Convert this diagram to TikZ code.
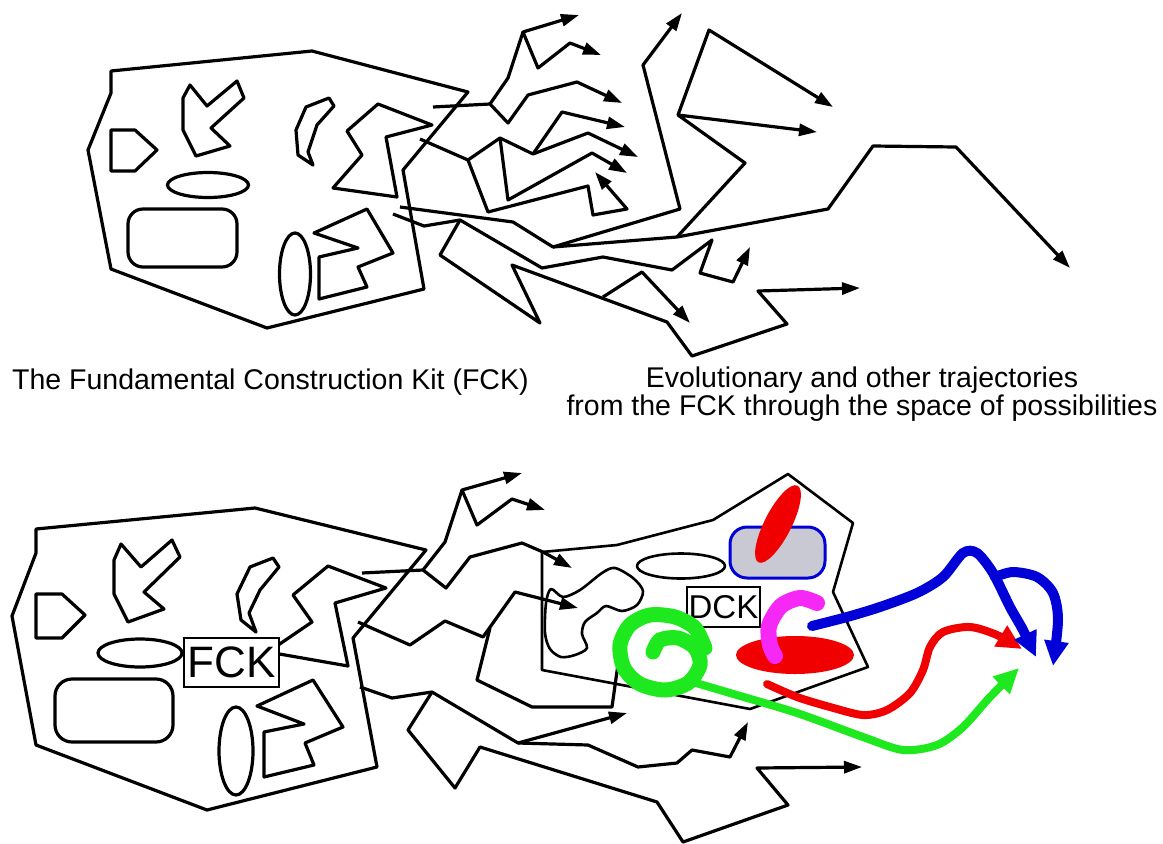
\documentclass[tikz,border=0pt]{standalone}
\usepackage{fontspec}
\setmainfont{Liberation Sans}
\usetikzlibrary{arrows.meta,shapes.geometric}
\definecolor{mygreen}{RGB}{30,232,30}
\definecolor{myred}{RGB}{240,0,0}
\definecolor{myblue}{RGB}{0,0,215}
\definecolor{mymag}{RGB}{245,40,245}
\definecolor{dotfill}{RGB}{200,201,210}
\begin{document}
\begin{tikzpicture}[x=1pt,y=-1pt,
  ln/.style={line width=3.2pt,line join=round,black},
  arr/.style={ln,-{Triangle[length=18pt,width=12pt]}},
  dckln/.style={line width=2.6pt,line join=round,black},
  captxt/.style={font=\fontsize{28.5}{25.5}\selectfont,inner sep=0pt},
  garr/.style={line width=8pt,line cap=round,mygreen,-{Triangle[length=25pt,width=23pt]}},
  rarr/.style={line width=8pt,line cap=round,myred,-{Triangle[length=25pt,width=23pt]}},
  barr/.style={line width=10pt,line cap=round,myblue,-{Triangle[length=25pt,width=23pt]}}]
\useasboundingbox (0,0) rectangle (1163,844);
\fill[white] (0,0) rectangle (1163,844);

% ================= TOP: FCK =================
\draw[ln] (111,71) -- (312,51) -- (468,92) -- (403,170) -- (424,289) -- (267,328) -- (111,269) -- (88,150) -- (111,93) -- cycle;
\draw[ln] (111,130) -- (135,130) -- (157,150) -- (135,171) -- (111,171) -- cycle;
\draw[ln] (190,85) -- (207,106) -- (237,81) -- (244,98) -- (211,128) -- (230,146) -- (196,156) -- (183,130) -- (183,98) -- cycle;
\draw[ln] (208,185) ellipse [x radius=40.5pt,y radius=12.5pt];
\draw[ln,rounded corners=15pt] (128,209) rectangle (237,267);
\draw[ln] (329,98) -- (334,106) -- (317,125) -- (308,152) -- (313,165) -- (298,155) -- (296,130) -- (306,107) -- cycle;
\draw[ln] (295,274) ellipse [x radius=15.5pt,y radius=41pt];
\draw[ln] (314,233) -- (367,209) -- (393,253) -- (358,267) -- (367,287) -- (319,299) -- (319,257) -- (358,248) -- cycle;
\draw[ln] (378,104) -- (432,125) -- (386,137) -- (397,197) -- (333,188) -- (362,155) -- (347,131) -- cycle;

% top trajectories
\draw[arr] (433,107) -- (490,104) -- (508,123) -- (528,95) -- (577,82) -- (622,103);
\draw[arr] (490,104) -- (508,78) -- (523,32) -- (579,15);
\draw[arr] (523,32) -- (538,68) -- (570,43) -- (601,55);
\draw[arr] (420,139) -- (468,160) -- (500,138) -- (533,154) -- (588,133) -- (638,157);
\draw[arr] (533,154) -- (562,112) -- (625,127);
\draw[arr] (500,138) -- (508,200) -- (592,153) -- (627,173);
\draw[arr] (468,160) -- (488,212) -- (588,186) -- (593,215) -- (627,209) -- (595,172);
\draw[arr] (400,207) -- (513,222) -- (553,247) -- (680,209) -- (643,65) -- (682,13);
\draw[arr] (553,247) -- (677,237) -- (828,209) -- (873,146) -- (956,147) -- (1070,268);
\draw[arr] (677,237) -- (745,163) -- (678,115) -- (817,132);
\draw[arr] (678,115) -- (709,30) -- (833,107);
\draw[arr] (393,214) -- (424,226) -- (460,220) -- (542,268) -- (603,257) -- (672,270) -- (712,240) -- (700,273) -- (733,282) -- (750,247);
\draw[arr] (460,220) -- (440,255) -- (540,323) -- (512,265) -- (667,322) -- (692,356) -- (787,324) -- (758,291) -- (860,288);
\draw[arr] (603,297) -- (642,272) -- (690,323);

% captions
\node[captxt,anchor=base west] (c1) at (12,389) {The Fundamental Construction Kit (FCK)};
\node[captxt,align=center,anchor=north] (c2) at (862,367) {Evolutionary and other trajectories\\from the FCK through the space of possibilities};

% ================= BOTTOM =================
\draw[ln] (36,529) -- (255,508) -- (426,550) -- (353,638) -- (377,767) -- (207,810) -- (36,745) -- (12,616) -- (36,553) -- cycle;
\draw[ln] (36,594) -- (62,594) -- (85,615) -- (62,638) -- (36,638) -- cycle;
\draw[ln] (121,544) -- (141,567) -- (172,540) -- (180,557) -- (144,592) -- (164,609) -- (128,622) -- (114,594) -- (114,560) -- cycle;
\draw[ln] (140,653) ellipse [x radius=42pt,y radius=14pt];
\draw[ln,rounded corners=17pt] (55,679) rectangle (173,742);
\draw[ln] (273,558) -- (279,567) -- (260,590) -- (249,613) -- (256,632) -- (241,620) -- (237,594) -- (250,567) -- cycle;
\draw[ln] (236,751) ellipse [x radius=17pt,y radius=44pt];
\draw[ln] (257,706) -- (313,680) -- (343,727) -- (305,743) -- (314,765) -- (264,777) -- (264,732) -- (304,724) -- cycle;
\draw[ln] (328,566) -- (386,588) -- (335,603) -- (348,666) -- (268,652) -- (312,622) -- (293,595) -- cycle;

% bottom trajectories
\draw[arr] (362,573) -- (423,570) -- (445,542) -- (462,490) -- (522,473);
\draw[arr] (462,490) -- (477,525) -- (512,499) -- (545,510);
\draw[arr] (423,570) -- (446,588) -- (470,557) -- (522,543) -- (543,552) -- (572,568);
\draw[arr] (358,622) -- (410,645) -- (445,621) -- (483,637) -- (515,592) -- (578,608);
\draw[ln] (490,628) -- (477,680) -- (532,707) -- (612,707) -- (620,650);
\draw[arr] (360,687) -- (392,698) -- (432,692) -- (518,743) -- (627,713);
\draw[arr] (518,743) -- (588,745) -- (638,767) -- (677,763) -- (692,750) -- (730,757) -- (748,722);
\draw[arr] (432,692) -- (408,730) -- (455,788) -- (480,747) -- (657,802) -- (683,842) -- (788,805) -- (757,768) -- (862,767);

% DCK region
\draw[dckln] (542,552) -- (617,545) -- (713,520) -- (788,474) -- (853,523) -- (833,592) -- (868,667) -- (750,709) -- (542,670) -- cycle;
\draw[dckln] plot[smooth cycle] coordinates {(546,603) (551,589) (563,597) (580,590) (602,573) (615,568) (633,578) (643,591) (637,605) (622,611) (606,606) (597,613) (585,622) (582,634) (587,648) (575,655) (561,657) (550,649) (545,633)};
\draw[dckln] (681,566) ellipse [x radius=44pt,y radius=12.5pt];
\draw[myblue,line width=3pt,fill=dotfill,rounded corners=17pt] (730,527) rectangle (825,578);
\node[ellipse,fill=myred,minimum width=86pt,minimum height=27pt,rotate=63,inner sep=0pt] (rell) at (778,524) {};
\node[draw,line width=2.6pt,fill=white,minimum width=73pt,minimum height=40pt,inner sep=0pt,font=\fontsize{33}{33}\selectfont] (dck) at (723.5,607) {DCK};
\node[draw,line width=2.6pt,fill=white,minimum width=95pt,minimum height=49pt,inner sep=0pt,font=\fontsize{44}{44}\selectfont] (fck) at (231.5,662.5) {FCK};

% green spiral
\draw[mygreen,line width=15pt,line cap=round] plot[smooth] coordinates {(705,648) (695,628) (675,617) (650,615) (630,625) (620,645) (624,668) (640,684) (665,690) (688,683) (700,665) (695,648) (678,638) (660,640) (653,652)};
% red blob and magenta hook
\fill[myred] (795,655) ellipse [x radius=59pt,y radius=19pt];
\draw[mymag,line width=16pt,line cap=round] plot[smooth] coordinates {(817,603) (800,598) (781,606) (769,626) (770,645) (775,656)};

% coloured trajectories
\draw[garr] plot[smooth] coordinates {(696,683) (730,693) (797,713) (863,737) (903,750) (937,745) (963,727) (990,697) (1019,668)};
\draw[rarr] plot[smooth] coordinates {(767,684) (797,697) (830,707) (863,715) (887,710) (910,693) (923,670) (930,647) (943,632) (970,627) (997,635) (1022,649)};
\draw[barr] plot[smooth] coordinates {(812,626) (847,617) (880,607) (917,593) (943,577) (963,553) (977,553) (993,573) (1010,607) (1023,630) (1036,657)};
\draw[barr] plot[smooth] coordinates {(995,577) (1013,572) (1037,577) (1053,593) (1058,620) (1053,666)};
\end{tikzpicture}
\end{document}
